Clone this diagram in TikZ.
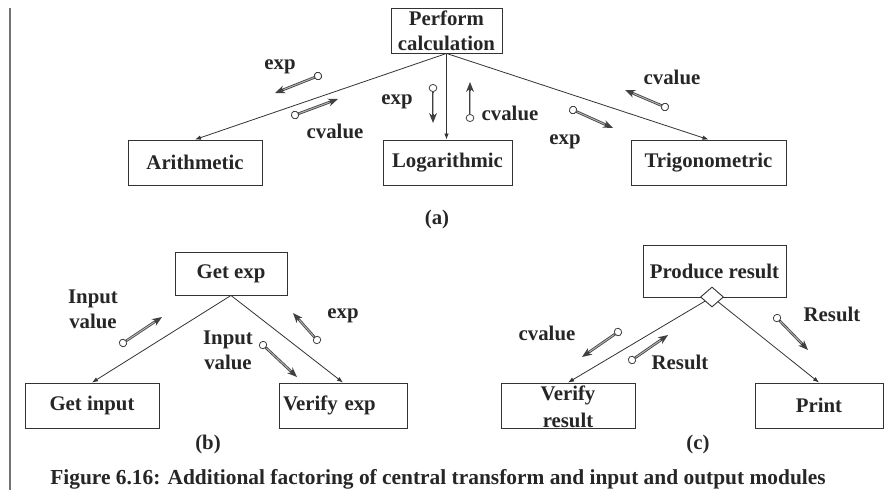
\documentclass[tikz,border=0pt]{standalone}
\usepackage{fontspec}
\setmainfont{Liberation Serif}
\usetikzlibrary{arrows.meta,shapes.geometric}
\tikzset{
  every node/.style={font=\bfseries\fontsize{20.8}{25}\selectfont, text=black!85},
  module/.style={draw=black!80, line width=0.9pt, minimum height=45pt, inner sep=0pt, align=center},
  link/.style={draw=black!80, line width=0.8pt, -{Latex[length=6pt,width=4.5pt]}},
  flow/.style={draw=black!75, line width=2.6pt, shorten <=-4pt,
    {Circle[fill=white,length=8pt,width=8.5pt,line width=0.8pt]}-{Stealth[length=10pt,width=8pt,line width=0pt]},
    postaction={draw=black!30, line width=1pt, -, shorten <=4.5pt, shorten >=9pt}},
  lbl/.style={inner sep=0pt, align=center}
}
\begin{document}
\begin{tikzpicture}[x=1pt,y=-1pt]
\useasboundingbox (0,0) rectangle (884,490);
% margin rule
\draw[black!55, line width=1.6pt] (10,8) -- (10,490);

% (a) central transform
\node[module, minimum width=111pt, minimum height=45pt] (perf) at (446.5,30.5) {Perform\\calculation};
\node[module, minimum width=134pt] (arith) at (195,162.5) {Arithmetic};
\node[module, minimum width=129pt] (loga) at (447.5,162.5) {Logarithmic};
\node[module, minimum width=155pt] (trig) at (708.5,162.5) {Trigonometric};
\draw[link] (perf.south) -- (arith.north);
\draw[link] (perf.south) -- (perf.south |- loga.north);
\draw[link] (perf.south) -- (trig.north);

\coordinate (a1s) at (318,76);  \coordinate (a1e) at (275,93);
\coordinate (a2s) at (295,115); \coordinate (a2e) at (338,99);
\coordinate (a3s) at (433,88);  \coordinate (a3e) at (433,123);
\coordinate (a4s) at (470,118); \coordinate (a4e) at (470,82);
\coordinate (a5s) at (665,107); \coordinate (a5e) at (625,90);
\coordinate (a6s) at (573,110); \coordinate (a6e) at (613,128);
\draw[flow] (a1s) -- (a1e);
\draw[flow] (a2s) -- (a2e);
\draw[flow] (a3s) -- (a3e);
\draw[flow] (a4s) -- (a4e);
\draw[flow] (a5s) -- (a5e);
\draw[flow] (a6s) -- (a6e);
\node[lbl] (la1) at (280,67) {exp};
\node[lbl] (la2) at (335,131) {cvalue};
\node[lbl] (la3) at (397,102) {exp};
\node[lbl] (la4) at (510,113) {cvalue};
\node[lbl] (la5) at (672,77) {cvalue};
\node[lbl] (la6) at (565,142) {exp};
\node[lbl] (capa) at (437,219) {(a)};

% (b) input module
\node[module, minimum width=112pt, minimum height=43pt] (getexp) at (231,273.5) {Get exp};
\node[module, minimum width=134pt] (getin) at (92,405.5) {Get input};
\node[module, text width=120pt, inner xsep=4pt, align=left] (verexp) at (343,405.5) {Verify exp};
\draw[link] (getexp.south) -- (getin.north);
\draw[link] (getexp.south) -- (verexp.north);

\coordinate (b1s) at (123,343); \coordinate (b1e) at (162,317);
\coordinate (b2s) at (263,345); \coordinate (b2e) at (297,377);
\coordinate (b3s) at (317,340); \coordinate (b3e) at (293,313);
\draw[flow] (b1s) -- (b1e);
\draw[flow] (b2s) -- (b2e);
\draw[flow] (b3s) -- (b3e);
\node[lbl] (lb1) at (93,309.5) {Input\\value};
\node[lbl] (lb2) at (228,350.5) {Input\\value};
\node[lbl] (lb3) at (343,316) {exp};
\node[lbl] (capb) at (208,444) {(b)};

% (c) output module
\node[module, minimum width=143pt, minimum height=52pt] (pres) at (714.5,271) {Produce result};
\node[draw=black!80, fill=white, line width=0.9pt, diamond, inner sep=0pt, minimum width=23pt, minimum height=20pt] (sel) at (712,297) {};
\node[module, minimum width=134pt] (vres) at (568,405.5) {};
\node[lbl, font=\bfseries\fontsize{20.8}{27}\selectfont] (vrestext) at (568,407) {Verify\\result};
\node[module, minimum width=128pt] (print) at (819,405.5) {Print};
\draw[link] (sel) -- (vres.north);
\draw[link] (sel) -- (print.north);

\coordinate (c1s) at (618,332); \coordinate (c1e) at (582,357);
\coordinate (c2s) at (632,360); \coordinate (c2e) at (668,335);
\coordinate (c3s) at (777,318); \coordinate (c3e) at (808,350);
\draw[flow] (c1s) -- (c1e);
\draw[flow] (c2s) -- (c2e);
\draw[flow] (c3s) -- (c3e);
\node[lbl] (lc1) at (547,333) {cvalue};
\node[lbl] (lc2) at (680,362) {Result};
\node[lbl] (lc3) at (832,314) {Result};
\node[lbl] (capc) at (698,444) {(c)};

% figure caption
\node[lbl, font=\bfseries\fontsize{21.4}{25}\selectfont] (caption) at (438,479) {Figure 6.16: Additional factoring of central transform and input and output modules};
\end{tikzpicture}
\end{document}
